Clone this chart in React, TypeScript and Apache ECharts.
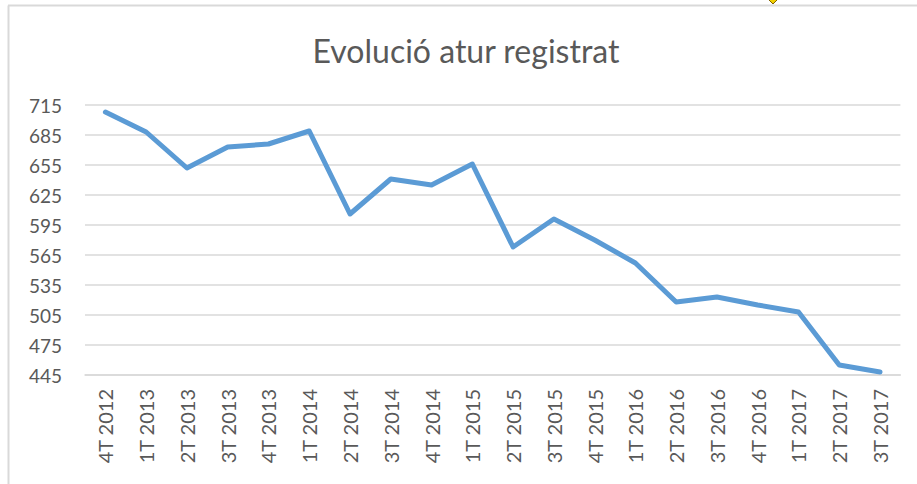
import React, { useEffect, useRef } from "react";
import * as echarts from "echarts";

const categories = [
  "4T 2012", "1T 2013", "2T 2013", "3T 2013", "4T 2013",
  "1T 2014", "2T 2014", "3T 2014", "4T 2014",
  "1T 2015", "2T 2015", "3T 2015", "4T 2015",
  "1T 2016", "2T 2016", "3T 2016", "4T 2016",
  "1T 2017", "2T 2017", "3T 2017",
];

const aturValues = [
  708, 688, 652, 673, 676,
  689, 606, 641, 635,
  656, 573, 601, 580,
  557, 518, 523, 515,
  508, 455, 448,
];

const titleText = "Evolució atur registrat";
const axisMin = 445;
const axisMax = 715;
const axisStep = 30;

export default function App() {
  const ref = useRef<HTMLDivElement>(null);

  useEffect(() => {
    if (!ref.current) return;
    const chart = echarts.init(ref.current, undefined, { renderer: "svg" });
    const font = "Lato, 'Open Sans', sans-serif";
    chart.setOption({
      animation: false,
      graphic: [
        {
          type: "line",
          shape: { x1: 8, y1: 5.5, x2: 917, y2: 5.5 },
          style: { stroke: "#d9d9d9", lineWidth: 2 },
        },
        {
          type: "line",
          shape: { x1: 8.5, y1: 5.5, x2: 8.5, y2: 484 },
          style: { stroke: "#d9d9d9", lineWidth: 2 },
        },
        {
          type: "polygon",
          shape: { points: [[766, -3], [773, 4], [780, -3]] },
          style: { fill: "#f2d000", stroke: "#7f6000", lineWidth: 1 },
        },
        {
          type: "text",
          x: 466,
          y: 50,
          style: {
            text: titleText,
            fontFamily: font,
            fontSize: 32,
            fill: "#595959",
            align: "center",
            verticalAlign: "middle",
          },
        },
      ],
      grid: { left: 85, right: 16.6, top: 105, bottom: 109, containLabel: false },
      xAxis: {
        type: "category",
        data: categories,
        boundaryGap: true,
        axisLine: { show: true, lineStyle: { color: "#d9d9d9", width: 1.5 } },
        axisTick: { show: false },
        axisLabel: {
          rotate: 90,
          interval: 0,
          margin: 14,
          color: "#595959",
          fontFamily: font,
          fontSize: 20,
        },
      },
      yAxis: {
        type: "value",
        min: 0,
        max: axisMax - axisMin,
        interval: axisStep,
        axisLine: { show: false },
        axisTick: { show: false },
        splitLine: { lineStyle: { color: "#d9d9d9", width: 1.5 } },
        axisLabel: {
          margin: 23,
          color: "#595959",
          fontFamily: font,
          fontSize: 19,
          formatter: (v: number) => String(v + axisMin),
        },
      },
      series: [
        {
          type: "line",
          data: aturValues.map((v) => v - axisMin),
          showSymbol: false,
          symbol: "none",
          lineStyle: { color: "#5b9bd5", width: 5, cap: "round", join: "round" },
        },
      ],
    });
    return () => chart.dispose();
  }, []);

  return (
    <div
      ref={ref}
      style={{ position: "absolute", left: 0, top: 0, width: 917, height: 484, background: "#fff" }}
    />
  );
}
